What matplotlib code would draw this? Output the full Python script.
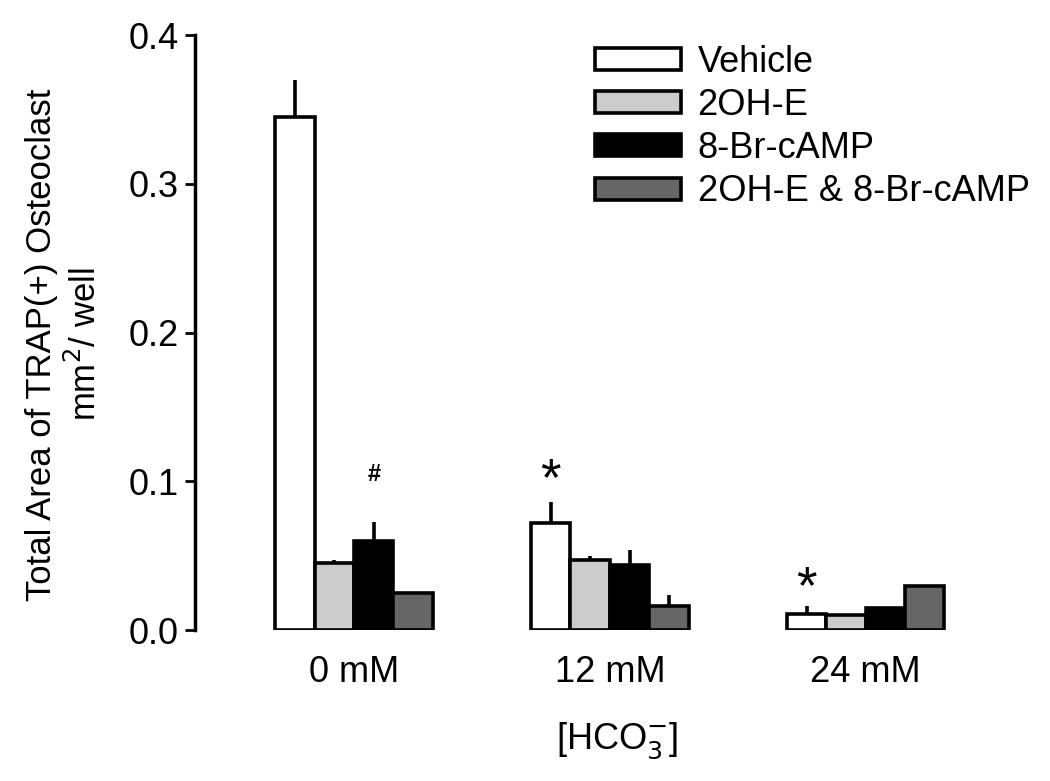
import numpy as np
import matplotlib
matplotlib.use('Agg')
import matplotlib.pyplot as plt

plt.rcParams['font.family'] = ['Liberation Sans', 'DejaVu Sans']

# ===== Данные =====
groups = ['0 mM', '12 mM', '24 mM']
series = ['Vehicle', '2OH-E', '8-Br-cAMP', '2OH-E & 8-Br-cAMP']
colors = ['#ffffff', '#cccccc', '#000000', '#666666']

vehicle = [0.345, 0.072, 0.011]
oh_e = [0.045, 0.047, 0.010]
br_camp = [0.060, 0.044, 0.015]
combo = [0.025, 0.016, 0.030]

vehicle_err = [0.025, 0.014, 0.005]
oh_e_err = [0.002, 0.003, 0.001]
br_camp_err = [0.013, 0.010, 0.0]
combo_err = [0.0, 0.008, 0.0]

values = [vehicle, oh_e, br_camp, combo]
errors = [vehicle_err, oh_e_err, br_camp_err, combo_err]

# метки значимости: (группа, серия, y, текст)
marks = [(0, 2, 0.105, '#'), (1, 0, 0.1, '*'), (2, 0, 0.028, '*')]

# ===== Рисунок =====
fig = plt.figure(figsize=(10.5, 7.81), dpi=100)
ax = fig.add_axes([0.186, 0.193, 0.804, 0.762])

x = np.arange(len(groups))
w = 0.154
for i, (vals, errs) in enumerate(zip(values, errors)):
    pos = x + (i - 1.5) * w
    ax.bar(pos, vals, w, color=colors[i], edgecolor='black', linewidth=2.6,
           label=series[i], zorder=2)
    ax.errorbar(pos, vals, yerr=[np.zeros(len(errs)), errs], fmt='none',
                ecolor='black', elinewidth=2.6, capsize=0, zorder=1)

for g, s, y, txt in marks:
    if txt == '#':
        ax.text(x[g] + (s - 1.5) * w, y, txt, ha='center', va='center',
                fontsize=17, fontweight='bold')
    else:
        ax.text(x[g] + (s - 1.5) * w, y, txt, ha='center', va='center',
                fontsize=38)

ax.set_xlim(-0.621, 2.68)
ax.set_ylim(0, 0.4)
ax.set_yticks([0.0, 0.1, 0.2, 0.3, 0.4])
ax.set_yticklabels(['0.0', '0.1', '0.2', '0.3', '0.4'])
ax.set_xticks(x)
ax.set_xticklabels(groups)

for s in ['top', 'right', 'bottom']:
    ax.spines[s].set_visible(False)
ax.spines['left'].set_linewidth(2.5)
ax.tick_params(axis='y', length=7, width=2, labelsize=26, pad=5)
ax.tick_params(axis='x', length=0, labelsize=26, pad=18)

ax.set_xlabel('[HCO$_3^{-}$]', fontsize=26, labelpad=22)
ax.set_ylabel('Total Area of TRAP(+) Osteoclast\nmm$^2$/ well', fontsize=25,
              labelpad=18, linespacing=1.3)
ax.yaxis.label.set_y(0.48)

leg = fig.legend(loc='upper left', bbox_to_anchor=(0.567, 0.943), frameon=False,
                 fontsize=26, handlelength=2.36, handleheight=0.55,
                 labelspacing=0.23, handletextpad=0.47, borderpad=0,
                 borderaxespad=0)
for p in leg.get_patches():
    p.set_linewidth(2.6)

fig.savefig('out.png', dpi=100)
